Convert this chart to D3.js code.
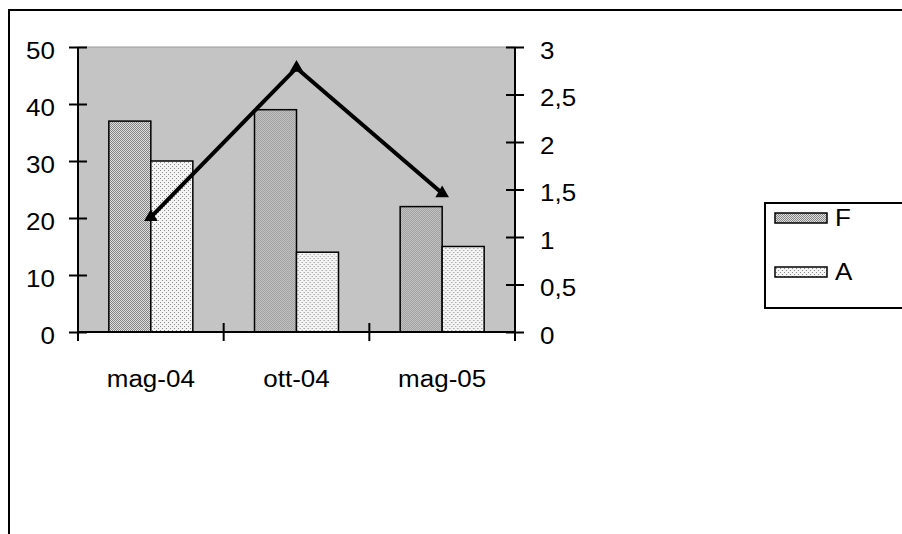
<!DOCTYPE html>
<html>
<head>
<meta charset="utf-8">
<script src="https://cdn.jsdelivr.net/npm/d3@7"></script>
<style>
  html, body { margin: 0; padding: 0; background: #fff; }
  svg { display: block; }
  text { font-family: "Liberation Sans", Arial, sans-serif; font-size: 23px; fill: #000; }
</style>
</head>
<body>
<svg id="chart" width="902" height="534"></svg>
<script>
// Data
const categories = ["mag-04", "ott-04", "mag-05"];
const seriesF = [37, 39, 22];
const seriesA = [30, 14, 15];
const lineValues = [1.21, 2.78, 1.46];
const leftTicks = [0, 10, 20, 30, 40, 50];
const rightTicks = [0, 0.5, 1, 1.5, 2, 2.5, 3];
const legendLabels = ["F", "A"];

const W = 902, H = 534;
const plot = { left: 78, right: 515, top: 47, bottom: 332 };
const stretch = 1.13;  // text is drawn slightly wide
const fmtIt = d3.formatLocale({ decimal: ",", thousands: ".", grouping: [3], currency: ["", "€"] }).format("~g");

const svg = d3.select("#chart");

// Fill patterns for the two bar series
const defs = svg.append("defs");
const pF = defs.append("pattern").attr("id", "patF").attr("patternUnits", "userSpaceOnUse")
  .attr("width", 2).attr("height", 2);
pF.append("rect").attr("width", 2).attr("height", 2).attr("fill", "#dedede");
pF.append("rect").attr("width", 1).attr("height", 1).attr("fill", "#858585");
pF.append("rect").attr("x", 1).attr("y", 1).attr("width", 1).attr("height", 1).attr("fill", "#858585");

const pA = defs.append("pattern").attr("id", "patA").attr("patternUnits", "userSpaceOnUse")
  .attr("width", 4).attr("height", 4);
pA.append("rect").attr("width", 4).attr("height", 4).attr("fill", "#f4f4f4");
pA.append("rect").attr("width", 1).attr("height", 1).attr("fill", "#8a8a8a");
pA.append("rect").attr("x", 2).attr("y", 2).attr("width", 1).attr("height", 1).attr("fill", "#8a8a8a");

// Outer frame
svg.append("rect").attr("x", 9).attr("y", 10).attr("width", W + 20).attr("height", H + 20)
  .attr("fill", "none").attr("stroke", "#000").attr("stroke-width", 2);

// Scales
const x = d3.scaleBand().domain(categories).range([plot.left, plot.right]).padding(0);
const inner = d3.scaleBand().domain(legendLabels).range([0, x.bandwidth()])
  .paddingInner(0).paddingOuter(0.734);
const yL = d3.scaleLinear().domain([0, 50]).range([plot.bottom, plot.top]);
const yR = d3.scaleLinear().domain([0, 3]).range([plot.bottom, plot.top]);

// Plot area
svg.append("rect").attr("x", plot.left).attr("y", plot.top)
  .attr("width", plot.right - plot.left).attr("height", plot.bottom - plot.top)
  .attr("fill", "#c4c4c4").attr("stroke", "#9a9a9a").attr("stroke-width", 1);

// Bars
const rows = categories.map((c, i) => ({ cat: c, F: seriesF[i], A: seriesA[i] }));
const groups = svg.append("g").selectAll("g").data(rows).join("g")
  .attr("transform", d => `translate(${x(d.cat)},0)`);
groups.selectAll("rect").data(d => legendLabels.map(k => ({ key: k, value: d[k] }))).join("rect")
  .attr("x", d => inner(d.key))
  .attr("y", d => yL(d.value))
  .attr("width", inner.bandwidth())
  .attr("height", d => yL(0) - yL(d.value))
  .attr("fill", d => d.key === "F" ? "url(#patF)" : "url(#patA)")
  .attr("stroke", "#000").attr("stroke-width", 1.5);

// Helper to widen tick/legend text horizontally
function widen(sel) {
  sel.each(function () {
    const t = d3.select(this);
    const xv = +t.attr("x") || 0;
    t.attr("x", xv / stretch).attr("transform", `scale(${stretch},1)`);
  });
}

// Left axis
const gL = svg.append("g").attr("transform", `translate(${plot.left},0)`)
  .call(d3.axisLeft(yL).tickValues(leftTicks).tickSizeOuter(0).tickPadding(14).tickFormat(d3.format("d")));
gL.select(".domain").remove();
gL.selectAll(".tick line").attr("x1", -9).attr("x2", 9).attr("stroke", "#000").attr("stroke-width", 2);
gL.selectAll(".tick text").attr("x", -23).attr("dy", "0.48em").style("font-size", "23px")
  .style("font-family", "'Liberation Sans', Arial, sans-serif");
widen(gL.selectAll(".tick text"));
gL.append("line").attr("x1", 0).attr("x2", 0).attr("y1", plot.top).attr("y2", plot.bottom + 9)
  .attr("stroke", "#000").attr("stroke-width", 2);

// Right axis
const gR = svg.append("g").attr("transform", `translate(${plot.right},0)`)
  .call(d3.axisRight(yR).tickValues(rightTicks).tickSizeOuter(0).tickFormat(fmtIt));
gR.select(".domain").remove();
gR.selectAll(".tick line").attr("x1", -9).attr("x2", 9).attr("stroke", "#000").attr("stroke-width", 2);
gR.selectAll(".tick text").attr("x", 25).attr("dy", "0.48em").style("font-size", "23px")
  .style("font-family", "'Liberation Sans', Arial, sans-serif");
widen(gR.selectAll(".tick text"));
gR.append("line").attr("x1", 0).attr("x2", 0).attr("y1", plot.top).attr("y2", plot.bottom + 9)
  .attr("stroke", "#000").attr("stroke-width", 2);

// Category axis: labels centred on bands, ticks on band boundaries
const gB = svg.append("g").attr("transform", `translate(0,${plot.bottom})`)
  .call(d3.axisBottom(x).tickSize(0).tickSizeOuter(0));
gB.select(".domain").remove();
gB.selectAll(".tick text").attr("y", 55).attr("dy", 0).style("font-size", "23px")
  .style("font-family", "'Liberation Sans', Arial, sans-serif")
  .attr("transform", `scale(${stretch},1)`);
gB.selectAll(".tick").each(function () {
  // keep labels centred after horizontal widening
  const g = d3.select(this);
  const m = /translate\(([-\d.]+),/.exec(g.attr("transform"));
  g.attr("transform", `translate(${+m[1]},0)`);
});
gB.append("line").attr("x1", plot.left).attr("x2", plot.right).attr("y1", 0).attr("y2", 0)
  .attr("stroke", "#000").attr("stroke-width", 2);
const bounds = d3.range(categories.length + 1).map(i => plot.left + i * x.step());
gB.selectAll("line.bound").data(bounds).join("line").attr("class", "bound")
  .attr("x1", d => d).attr("x2", d => d).attr("y1", -9).attr("y2", 9)
  .attr("stroke", "#000").attr("stroke-width", 2);

// Line series on the secondary axis
const cx = c => x(c) + x.bandwidth() / 2;
const pts = categories.map((c, i) => [cx(c), yR(lineValues[i])]);
svg.append("path").attr("d", d3.line()(pts)).attr("fill", "none")
  .attr("stroke", "#000").attr("stroke-width", 4).attr("stroke-linejoin", "miter");
const tri = d3.symbol().type(d3.symbolTriangle).size(80);
svg.append("g").selectAll("path").data(pts).join("path")
  .attr("transform", d => `translate(${d[0]},${d[1]})`).attr("d", tri).attr("fill", "#000");

// Legend
const leg = svg.append("g");
leg.append("rect").attr("x", 765).attr("y", 203).attr("width", 160).attr("height", 105)
  .attr("fill", "#fff").attr("stroke", "#000").attr("stroke-width", 2);
const legRows = [{ key: "F", y: 218, fill: "url(#patF)" }, { key: "A", y: 272, fill: "url(#patA)" }];
legRows.forEach(r => {
  leg.append("rect").attr("x", 775).attr("y", r.y - 5).attr("width", 52).attr("height", 10)
    .attr("fill", r.fill).attr("stroke", "#000").attr("stroke-width", 1.5);
  leg.append("text").attr("x", 835 / stretch).attr("y", r.y + 8.5)
    .attr("transform", `scale(${stretch},1)`).text(r.key);
});
</script>
</body>
</html>
